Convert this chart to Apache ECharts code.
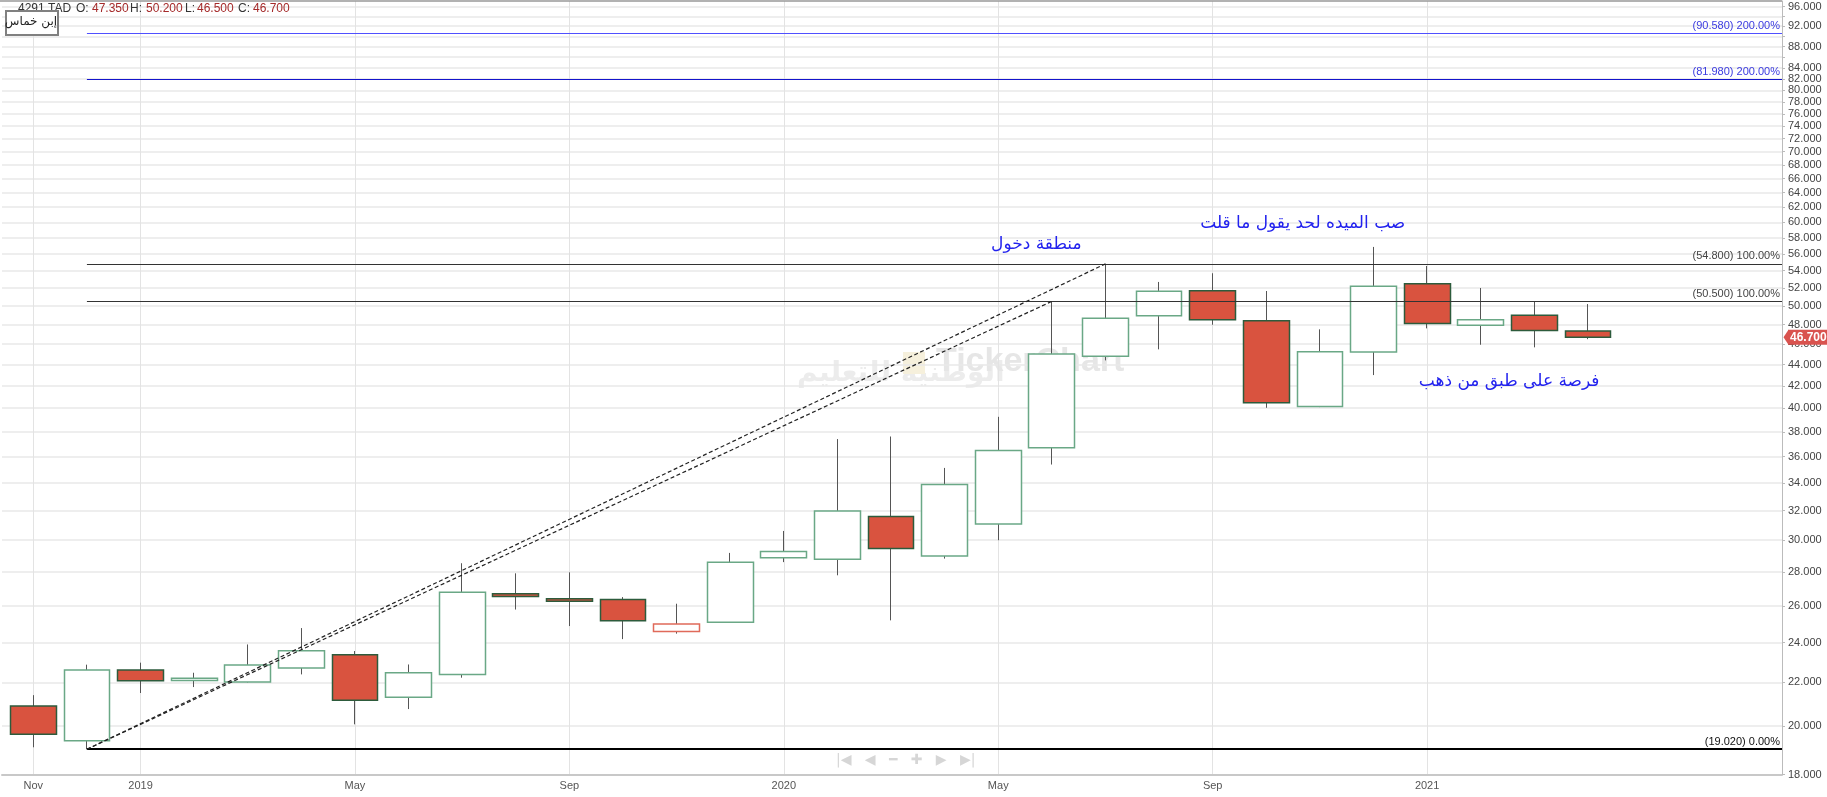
<!DOCTYPE html>
<html>
<head>
<meta charset="utf-8">
<title>4291.TAD</title>
<script src="https://cdn.jsdelivr.net/npm/echarts@6/dist/echarts.min.js"></script>
<style>
  html, body { margin: 0; padding: 0; background: #fff; }
  #mainChart { width: 1827px; height: 797px; }
</style>
</head>
<body>
<div id="mainChart"></div>
<script>
// monthly candles Nov 2018 .. Apr 2021
var months = ['2018-11', '2018-12', '2019-01', '2019-02', '2019-03', '2019-04', '2019-05', '2019-06',
  '2019-07', '2019-08', '2019-09', '2019-10', '2019-11', '2019-12', '2020-01', '2020-02', '2020-03',
  '2020-04', '2020-05', '2020-06', '2020-07', '2020-08', '2020-09', '2020-10', '2020-11', '2020-12',
  '2021-01', '2021-02', '2021-03', '2021-04'];
var opens = [20.90, 19.37, 22.60, 22.10, 22.02, 22.70, 23.37, 21.30, 22.38, 26.70, 26.41, 26.36, 24.59, 25.08,
  28.88, 28.78, 31.59, 28.99, 31.08, 36.70, 44.79, 48.94, 51.68, 48.41, 40.16, 45.21, 52.48, 47.93, 48.98, 47.35];
var closes = [19.65, 22.60, 22.08, 22.20, 22.85, 23.58, 21.16, 22.47, 26.78, 26.53, 26.26, 25.17, 24.99, 28.59,
  29.27, 31.98, 29.46, 33.88, 36.48, 45.02, 48.66, 51.62, 48.52, 40.48, 45.24, 52.18, 48.13, 48.52, 47.40, 46.70];
var lows = [19.10, 19.02, 21.50, 21.78, 22.00, 22.39, 20.08, 20.76, 22.23, 25.79, 24.88, 24.18, 24.47, 25.05,
  28.60, 27.79, 25.19, 28.82, 30.00, 35.38, 44.40, 45.48, 47.99, 40.04, 40.10, 43.00, 47.61, 45.94, 45.68, 46.50];
var highs = [21.40, 22.87, 22.97, 22.47, 23.90, 24.77, 23.56, 22.88, 28.53, 27.91, 27.97, 26.50, 26.12, 29.18,
  30.61, 37.40, 37.61, 35.12, 39.26, 50.50, 54.80, 52.68, 53.69, 51.65, 47.51, 56.86, 54.55, 51.99, 50.45, 50.20];

var xTickIdx = [0, 2, 6, 10, 14, 18, 22, 26];
var xTickText = ['Nov', '2019', 'May', 'Sep', '2020', 'May', 'Sep', '2021'];

var priceGrid = [18, 20, 22, 24, 26, 28, 30, 32, 34, 36, 38, 40, 42, 44, 46, 48, 50, 52, 54, 56, 58, 60,
  62, 64, 66, 68, 70, 72, 74, 76, 78, 80, 82, 84, 86, 88, 90, 92, 94, 96];
var priceLabels = [18, 20, 22, 24, 26, 28, 30, 32, 34, 36, 38, 40, 42, 44, 46, 48, 50, 52, 54, 56, 58, 60,
  62, 64, 66, 68, 70, 72, 74, 76, 78, 80, 82, 84, 88, 92, 96];

var levelValues = [19.02, 50.50, 54.80, 81.98, 90.58];
var levelPercents = ['0.00%', '100.00%', '100.00%', '200.00%', '200.00%'];

var trendStart = 1;        // Dec 2018 low
var trendEnds = [19, 20];  // Jun 2020 and Jul 2020 highs

var notes = ['منطقة دخول', 'صب الميده لحد يقول ما قلت', 'فرصة على طبق من ذهب'];

var X_MIN = -0.584, X_MAX = 32.62;

var myChart = echarts.init(document.getElementById('mainChart'));

function levelStyle(i) {
  if (i >= 3) return { line: i == 3 ? '#1414cc' : '#5050ff', text: '#3a3ae0', width: 1.2 };
  if (i == 0) return { line: '#000', text: '#111', width: 2 };
  return { line: '#333', text: '#444', width: 1.2 };
}

var wickData = [], bodyData = [];
for (var i = 0; i < months.length; i++) {
  wickData.push([i, lows[i], lows[i], lows[i], highs[i]]);
  var item = { value: [i, opens[i], closes[i], Math.min(opens[i], closes[i]), Math.max(opens[i], closes[i])] };
  // hollow candle that still closed below the previous close
  if (i > 0 && closes[i] > opens[i] && closes[i] < closes[i - 1]) {
    item.itemStyle = { borderColor: '#e06a5a' };
  }
  bodyData.push(item);
}

var lines = [];
for (var k = 0; k < levelValues.length; k++) {
  var st = levelStyle(k);
  lines.push([{
    coord: [trendStart, levelValues[k]],
    lineStyle: { color: st.line, width: st.width, type: 'solid' },
    label: {
      show: true, position: 'insideEndTop', distance: 2,
      formatter: '(' + levelValues[k].toFixed(3) + ') ' + levelPercents[k],
      color: st.text, fontSize: 11, fontFamily: 'Liberation Sans'
    }
  }, { coord: [X_MAX, levelValues[k]] }]);
}
for (var t = 0; t < trendEnds.length; t++) {
  lines.push([{
    coord: [trendStart, lows[trendStart]],
    lineStyle: { color: '#222', width: 1.2, type: [4, 2.5] }
  }, { coord: [trendEnds[t], highs[trendEnds[t]]] }]);
}
var last = months.length - 1;
// last price tag on the axis
lines.push({
  yAxis: closes[last],
  lineStyle: { color: 'transparent', width: 0 },
  label: {
    show: true, position: 'end', distance: 6,
    formatter: closes[last].toFixed(3),
    color: '#fff', backgroundColor: '#d9534f', fontWeight: 'bold',
    fontSize: 12, padding: [2, 2, 1, 2], fontFamily: 'Liberation Sans'
  }
});

function hdr(x, text, color) {
  return { type: 'text', left: x, top: 3, z: 100, silent: true,
    style: { text: text, fill: color, font: '12px "Liberation Sans"' } };
}

var option = {
  backgroundColor: '#fff',
  animation: false,
  grid: { left: 2, right: 45, top: 1, bottom: 22.5, containLabel: false, outerBoundsMode: 'none' },
  xAxis: {
    type: 'value', min: X_MIN, max: X_MAX,
    axisLine: { onZero: false, lineStyle: { color: '#c8c8c8', width: 2 } },
    axisTick: { show: false, customValues: xTickIdx },
    axisLabel: {
      customValues: xTickIdx, color: '#555', fontSize: 11, margin: 6, fontFamily: 'Liberation Sans',
      formatter: function (v) { return xTickText[xTickIdx.indexOf(Math.round(v))] || ''; }
    },
    splitLine: { show: true, lineStyle: { color: '#e3e3e3' } }
  },
  yAxis: {
    type: 'log', logBase: 10, position: 'right', min: 18, max: 97.2,
    axisLine: { show: true, onZero: false, lineStyle: { color: '#bbb' } },
    axisTick: { show: true, length: 3, customValues: priceGrid, lineStyle: { color: '#bbb' } },
    axisLabel: {
      customValues: priceLabels, color: '#444', fontSize: 11, margin: 6, fontFamily: 'Liberation Sans',
      formatter: function (v) { return Number(v).toFixed(3); }
    },
    splitLine: { show: true, lineStyle: { color: '#e8e8e8', width: 1.5 } }
  },
  graphic: [
    { type: 'text', left: 797, top: 360, z: -1, silent: true,
      style: { text: 'الوطنية للتعليم', fill: '#ececec', font: 'bold 28px "DejaVu Sans"' } },
    { type: 'rect', left: 903, top: 352, z: -1, silent: true,
      shape: { width: 22, height: 22 }, style: { fill: '#f6f0dc' } },
    { type: 'text', left: 936, top: 345, z: -1, silent: true,
      style: { text: 'TickerChart', fill: '#e6e6e6', font: 'bold 34px "Liberation Sans"' } },
    { type: 'text', left: 836, top: 753, silent: true,
      style: { text: '|◀   ◀   ━   ✚   ▶   ▶|', fill: '#d6d6d6', font: '14px "DejaVu Sans"' } },
    { type: 'line', silent: true, z: 50,
      shape: { x1: 0, y1: 1, x2: 1782, y2: 1 }, style: { stroke: '#999', lineWidth: 1.5 } },
    hdr(18, '4291.TAD', '#333'),
    hdr(76, 'O:', '#333'), hdr(92, opens[last].toFixed(3), '#a52a2a'),
    hdr(130, 'H:', '#333'), hdr(146, highs[last].toFixed(3), '#a52a2a'),
    hdr(185, 'L:', '#333'), hdr(197, lows[last].toFixed(3), '#a52a2a'),
    hdr(238, 'C:', '#333'), hdr(253, closes[last].toFixed(3), '#a52a2a'),
    { type: 'rect', left: 5, top: 10, z: 101, silent: true,
      shape: { width: 52, height: 24 }, style: { fill: '#fff', stroke: '#808080', lineWidth: 2 } },
    { type: 'text', x: 31, y: 22, z: 102, silent: true,
      style: { text: 'إبن خماس', fill: '#222', font: '12px "DejaVu Sans"', align: 'center', verticalAlign: 'middle' } }
  ],
  series: [
    {
      name: 'wick', type: 'candlestick', barWidth: 1, z: 2,
      encode: { x: 0, y: [1, 2, 3, 4] },
      itemStyle: { color: '#555', color0: '#555', borderColor: '#555', borderColor0: '#555', borderColorDoji: '#555', borderWidth: 1 },
      data: wickData
    },
    {
      name: '4291.TAD', type: 'candlestick', barWidth: '78%', z: 3,
      encode: { x: 0, y: [1, 2, 3, 4] },
      itemStyle: { color: '#fff', color0: '#d9533f', borderColor: '#6aa886', borderColor0: '#2d5b3c', borderWidth: 1.5 },
      data: bodyData,
      markLine: {
        silent: true, animation: false, symbol: ['none', 'none'],
        label: { show: false },
        data: lines
      },
      markPoint: {
        silent: true, animation: false, symbol: 'circle', symbolSize: 0,
        label: { show: true, position: 'inside', color: '#2222ee', fontSize: 17, fontFamily: 'DejaVu Sans', formatter: '{b}' },
        data: [
          { name: notes[0], coord: [18.71, 57.2] },
          { name: notes[1], coord: [23.68, 59.8] },
          { name: notes[2], coord: [27.53, 42.35] },
          { name: '', coord: [X_MAX, closes[last]], symbol: 'triangle', symbolSize: [15, 5],
            symbolRotate: 90, symbolOffset: [4, 0], itemStyle: { color: '#d9534f' }, label: { show: false } }
        ]
      }
    }
  ]
};
myChart.setOption(option, true);
</script>
</body>
</html>
